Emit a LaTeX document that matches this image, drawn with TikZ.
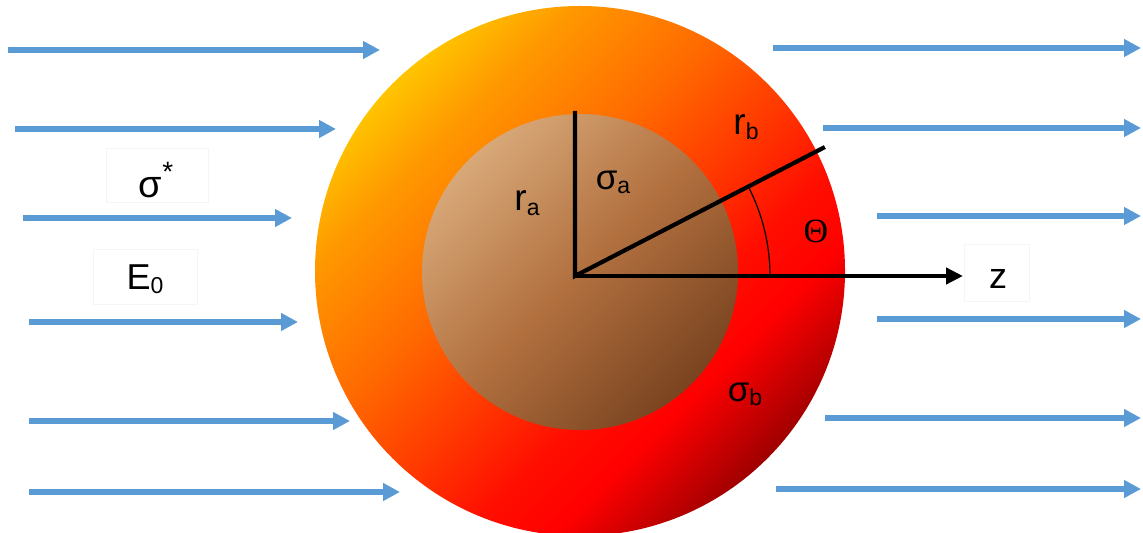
\documentclass[tikz,border=0pt]{standalone}
\usepackage{fontspec}
\setmainfont{Liberation Sans}
\newfontfamily\serifgr{Liberation Serif}
\usetikzlibrary{arrows.meta,calc}
\definecolor{fieldblue}{HTML}{5B9BD5}
\definecolor{ringA}{HTML}{FFC400}
\definecolor{ringB}{HTML}{FF9800}
\definecolor{ringC}{HTML}{FF6A00}
\definecolor{ringD}{HTML}{FF3A00}
\definecolor{ringE}{HTML}{FF0E00}
\definecolor{ringF}{HTML}{FF0000}
\definecolor{ringG}{HTML}{A00000}
\definecolor{coreA}{HTML}{D8A878}
\definecolor{coreB}{HTML}{B2703F}
\definecolor{coreC}{HTML}{7A4420}
\pgfdeclarehorizontalshading{ringshade}{100bp}{color(0bp)=(ringA); color(25bp)=(ringA); color(32bp)=(ringB); color(43bp)=(ringC); color(52bp)=(ringD); color(60bp)=(ringE); color(66bp)=(ringF); color(75bp)=(ringG); color(100bp)=(ringG)}
\pgfdeclarehorizontalshading{coreshade}{100bp}{color(0bp)=(coreA); color(25bp)=(coreA); color(50bp)=(coreB); color(75bp)=(coreC); color(100bp)=(coreC)}
\newcommand{\lowsub}[1]{\raisebox{-0.12em}{\fontsize{11.5}{11.5}\selectfont #1}}
\tikzset{
  field/.style={draw=fieldblue, line width=2.6pt, -{Triangle[length=8.5pt,width=8.5pt]}},
  axisline/.style={draw=black, line width=2.1pt},
  lbl/.style={inner sep=0pt, font=\fontsize{17.5}{18}\selectfont},
  tbox/.style={draw=black!4, line width=0.4pt, inner sep=0pt}
}
\begin{document}
\begin{tikzpicture}[x=0.5pt,y=0.5pt]
\useasboundingbox (0,0) rectangle (1143,-533);
% sphere
\shade[shading=ringshade, shading angle=-45] (580,-271) circle (265);
\shade[shading=coreshade, shading angle=-45] (580,-272) circle (158);
% field arrows, left
\foreach \i/\xa/\xb/\yy in {1/8/380/50, 2/15/336/129, 3/23/292/218, 4/29/298/322, 5/29/350/421, 6/29/400/492}{
  \coordinate (l\i s) at (\xa,-\yy);
  \coordinate (l\i e) at (\xb,-\yy);
  \draw[field] (l\i s) -- (l\i e);
}
% field arrows, right
\foreach \i/\xa/\xb/\yy in {1/773/1141/48, 2/823/1141/128, 3/877/1141/216, 4/877/1141/319, 5/825/1141/418, 6/776/1141/489}{
  \coordinate (r\i s) at (\xa,-\yy);
  \coordinate (r\i e) at (\xb,-\yy);
  \draw[field] (r\i s) -- (r\i e);
}
% axes
\coordinate (O) at (575,-276);
\coordinate (top) at (575,-113);
\coordinate (rad) at (823,-148);
\coordinate (ztip) at (963,-276);
\coordinate (arcstart) at (770,-276);
\node[tbox, minimum width=32.5pt, minimum height=28.5pt] (zbox) at (997,-273) {};
\node[lbl, font=\fontsize{18}{18}\selectfont] (zlab) at (998,-279) {z};
\draw[axisline, line cap=rect] (top) -- (O) -- (rad);
\draw[axisline, -{Triangle[length=8.5pt,width=8pt]}] (O) -- (ztip);
\draw[line width=0.6pt] (arcstart) arc[start angle=0, end angle=27.3, radius=195];
% labels
\node[tbox, minimum width=51pt, minimum height=27pt] (sbox) at (157,-175) {};
\node[lbl, font=\fontsize{19}{19}\selectfont] (sstar) at (156,-180) {σ\raisebox{0.4em}{\fontsize{14}{14}\selectfont *}};
\node[tbox, minimum width=52pt, minimum height=27.5pt] (ebox) at (145,-277) {};
\node[lbl, font=\fontsize{18}{18}\selectfont] (elab) at (145,-279) {E\lowsub{0}};
\node[lbl, font=\fontsize{18.5}{18.5}\selectfont] (ra) at (527,-203) {r\lowsub{a}};
\node[lbl] (sa) at (613,-182) {σ\lowsub{a}};
\node[lbl, font=\fontsize{18.5}{18.5}\selectfont] (rb) at (746,-127) {r\lowsub{b}};
\node[lbl, font=\serifgr\fontsize{17}{17}\selectfont] (th) at (816,-231) {Θ};
\node[lbl] (sb) at (745,-394) {σ\lowsub{b}};
\end{tikzpicture}
\end{document}
